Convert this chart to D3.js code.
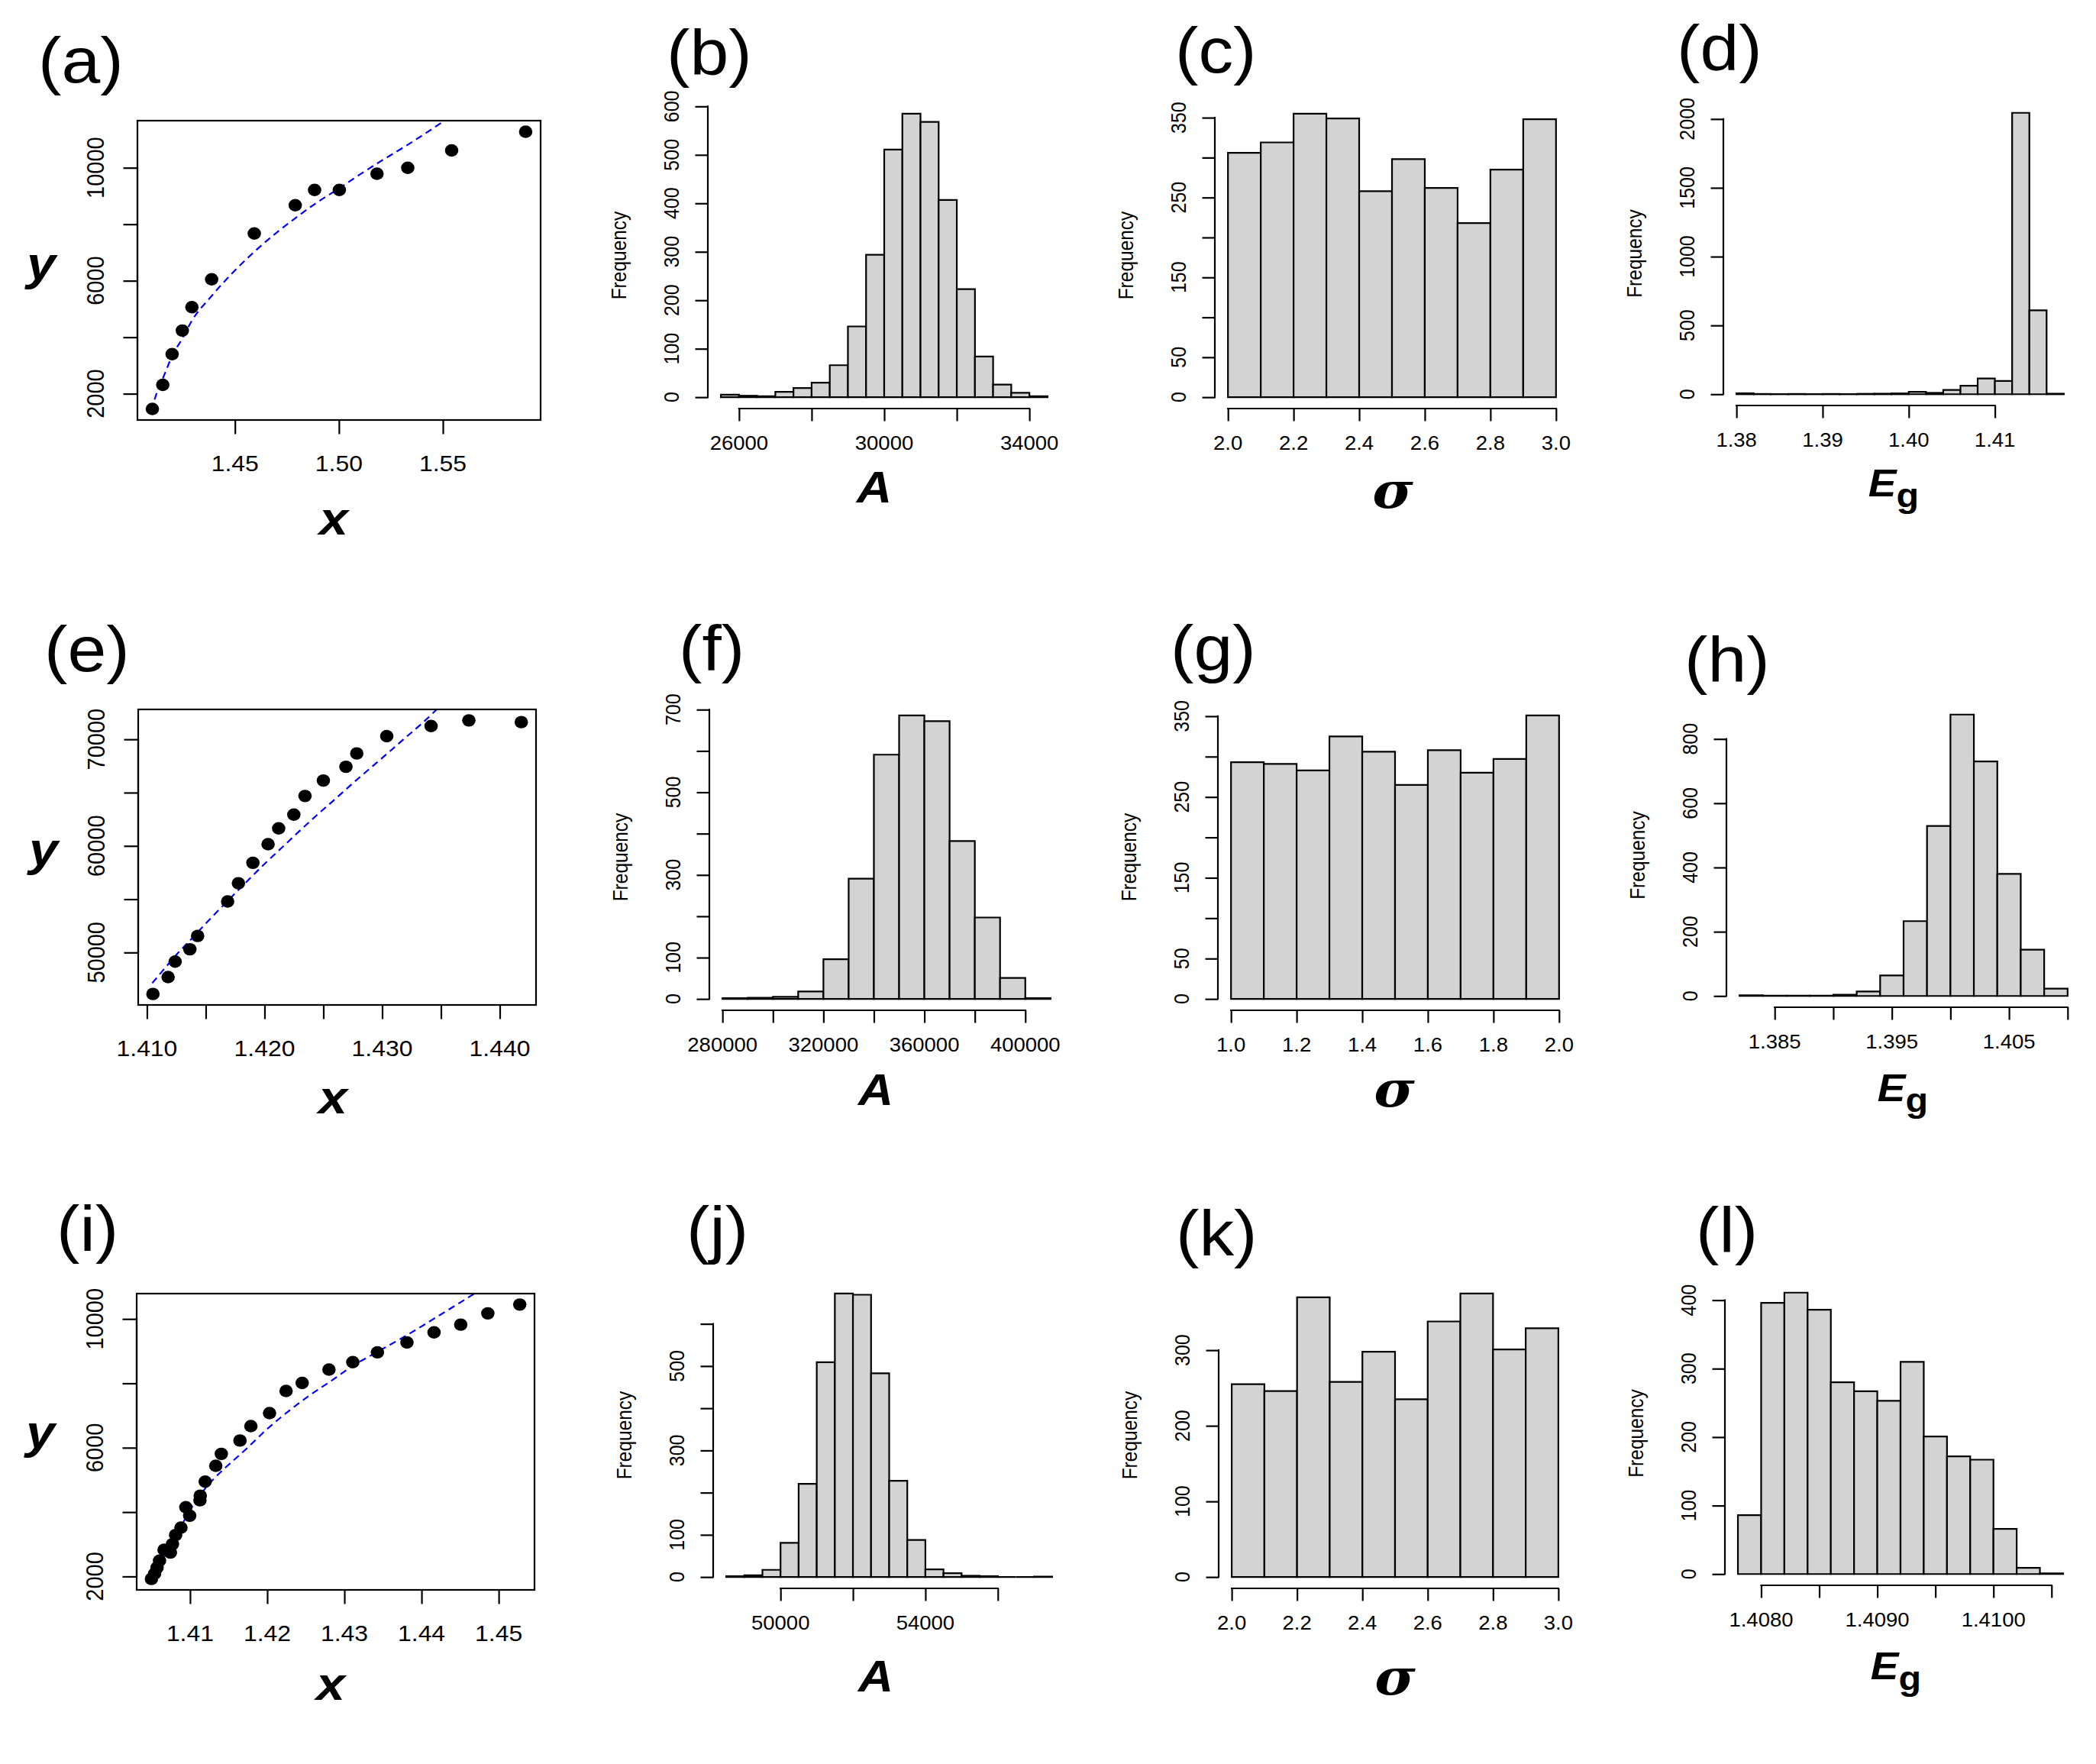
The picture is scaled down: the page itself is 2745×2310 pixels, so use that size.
<!DOCTYPE html>
<meta charset='utf-8'>
<body style='margin:0;background:#ffffff'>
<script src='https://d3js.org/d3.v7.min.js'></script>
<script>

var width = 2745, height = 2310;
var stretch = 1.1;          // the source figure is slightly stretched horizontally
var lw = 2.2;
var sans = 'Liberation Sans, Arial, sans-serif';

// ---- scatter panels (measured points and fitted curve) ----
var aX = [1.4103, 1.4153, 1.4198, 1.4247, 1.4293, 1.4388, 1.4593, 1.4790, 1.4883, 1.5002, 1.5183, 1.5331, 1.5542, 1.5898];
var aY = [1462, 2312, 3400, 4237, 5062, 6050, 7675, 8675, 9212, 9212, 9787, 10000, 10612, 11275];
var aFitX = [1.40983, 1.41237, 1.41525, 1.41983, 1.42475, 1.42932, 1.43881, 1.44881, 1.45932, 1.46915, 1.47898, 1.48831, 1.50017, 1.50983, 1.51831, 1.53305, 1.54203, 1.55085];
var aFitY = [1400, 2025, 2525, 3338, 3963, 4588, 5463, 6275, 7025, 7650, 8213, 8713, 9275, 9750, 10150, 10813, 11238, 11675];

var eX = [1.41051, 1.41180, 1.41240, 1.41365, 1.41431, 1.41686, 1.41778, 1.41901, 1.42030, 1.42120, 1.42249, 1.42344, 1.42500, 1.42692, 1.42784, 1.43039, 1.43416, 1.43737, 1.44183];
var eY = [46106, 47690, 49142, 50297, 51551, 54785, 56501, 58415, 60164, 61649, 62936, 64685, 66137, 67424, 68678, 70295, 71252, 71780, 71615];
var eFitX = [1.41045, 1.41159, 1.41249, 1.41368, 1.41488, 1.41608, 1.41728, 1.41847, 1.41997, 1.42147, 1.42296, 1.42446, 1.42596, 1.42746, 1.42895, 1.43045, 1.43195, 1.43344, 1.43464];
var eFitY = [47129, 48614, 49769, 51155, 52574, 53960, 55313, 56633, 58283, 59834, 61385, 62903, 64355, 65840, 67259, 68678, 70130, 71549, 72803];

var iX = [1.40499, 1.40540, 1.40572, 1.40604, 1.40663, 1.40745, 1.40772, 1.40813, 1.40882, 1.40945, 1.40995, 1.41128, 1.41132, 1.41196, 1.41333, 1.41405, 1.41647, 1.41788, 1.42030, 1.42244, 1.42453, 1.42800, 1.43109, 1.43428, 1.43811, 1.44162, 1.44508, 1.44859, 1.45273];
var iY = [1924, 2087, 2273, 2491, 2829, 2742, 3004, 3288, 3517, 4150, 3888, 4368, 4510, 4947, 5438, 5809, 6224, 6671, 7075, 7763, 8014, 8428, 8658, 8963, 9269, 9585, 9825, 10175, 10447];
var iFitX = [1.40499, 1.40576, 1.40645, 1.40736, 1.40827, 1.40918, 1.41009, 1.41100, 1.41191, 1.41282, 1.41419, 1.41556, 1.41738, 1.42011, 1.42285, 1.42558, 1.42831, 1.43105, 1.43424, 1.43788, 1.44244, 1.44677];
var iFitY = [1804, 2186, 2513, 2895, 3277, 3713, 4095, 4423, 4718, 4969, 5296, 5591, 5984, 6606, 7151, 7643, 8079, 8537, 8974, 9465, 10131, 10775];

// ---- histogram counts (first break, bin width, counts) ----
var bStart = 25500, bStep = 500;
var bCounts = [5, 3, 2, 11, 19, 30, 66, 146, 294, 511, 585, 568, 407, 223, 84, 26, 9, 2];
var cStart = 2.0, cStep = 0.1;
var cCounts = [306, 319, 355, 349, 258, 298, 262, 218, 285, 348];
var dStart = 1.380, dStep = 0.002;
var dCounts = [7, 2, 1, 2, 1, 2, 1, 3, 4, 6, 17, 10, 31, 62, 115, 96, 2045, 610, 4];

var fStart = 280000, fStep = 10000;
var fCounts = [2, 3, 5, 18, 96, 291, 591, 686, 672, 382, 197, 51, 2];
var gStart = 1.0, gStep = 0.1;
var gCounts = [293, 291, 283, 325, 306, 265, 308, 280, 297, 351];
var hStart = 1.382, hStep = 0.002;
var hCounts = [2, 1, 1, 1, 4, 14, 64, 233, 529, 876, 730, 380, 144, 23];

var jStart = 48500, jStep = 500;
var jCounts = [2, 4, 17, 81, 221, 509, 672, 669, 483, 228, 88, 18, 9, 3, 2, 0, 0, 1];
var kStart = 2.0, kStep = 0.1;
var kCounts = [255, 246, 370, 258, 298, 235, 338, 375, 301, 329];
var lStart = 1.4078, lStep = 0.0002;
var lCounts = [86, 396, 411, 386, 280, 267, 253, 310, 201, 172, 167, 66, 9, 1];

// ---- ticks and tick labels ('' = tick without label) ----
var aXTicks = [1.45, 1.50, 1.55], aXLabels = ['1.45', '1.50', '1.55'];
var aYTicks = [2000, 4000, 6000, 8000, 10000], aYLabels = ['2000', '', '6000', '', '10000'];
var eXTicks = [1.410, 1.415, 1.420, 1.425, 1.430, 1.435, 1.440], eXLabels = ['1.410', '', '1.420', '', '1.430', '', '1.440'];
var eYTicks = [50000, 55000, 60000, 65000, 70000], eYLabels = ['50000', '', '60000', '', '70000'];
var iXTicks = [1.41, 1.42, 1.43, 1.44, 1.45], iXLabels = ['1.41', '1.42', '1.43', '1.44', '1.45'];
var iYTicks = [2000, 4000, 6000, 8000, 10000], iYLabels = ['2000', '', '6000', '', '10000'];

var bXTicks = [26000, 28000, 30000, 32000, 34000], bXLabels = ['26000', '', '30000', '', '34000'];
var bYTicks = [0, 100, 200, 300, 400, 500, 600], bYLabels = ['0', '100', '200', '300', '400', '500', '600'];
var cXTicks = [2.0, 2.2, 2.4, 2.6, 2.8, 3.0], cXLabels = ['2.0', '2.2', '2.4', '2.6', '2.8', '3.0'];
var cYTicks = [0, 50, 100, 150, 200, 250, 300, 350], cYLabels = ['0', '50', '', '150', '', '250', '', '350'];
var dXTicks = [1.38, 1.39, 1.40, 1.41], dXLabels = ['1.38', '1.39', '1.40', '1.41'];
var dYTicks = [0, 500, 1000, 1500, 2000], dYLabels = ['0', '500', '1000', '1500', '2000'];

var fXTicks = [280000, 300000, 320000, 340000, 360000, 380000, 400000], fXLabels = ['280000', '', '320000', '', '360000', '', '400000'];
var fYTicks = [0, 100, 200, 300, 400, 500, 600, 700], fYLabels = ['0', '100', '', '300', '', '500', '', '700'];
var gXTicks = [1.0, 1.2, 1.4, 1.6, 1.8, 2.0], gXLabels = ['1.0', '1.2', '1.4', '1.6', '1.8', '2.0'];
var gYTicks = [0, 50, 100, 150, 200, 250, 300, 350], gYLabels = ['0', '50', '', '150', '', '250', '', '350'];
var hXTicks = [1.385, 1.390, 1.395, 1.400, 1.405, 1.410], hXLabels = ['1.385', '', '1.395', '', '1.405', ''];
var hYTicks = [0, 200, 400, 600, 800], hYLabels = ['0', '200', '400', '600', '800'];

var jXTicks = [50000, 52000, 54000, 56000], jXLabels = ['50000', '', '54000', ''];
var jYTicks = [0, 100, 200, 300, 400, 500, 600], jYLabels = ['0', '100', '', '300', '', '500', ''];
var kXTicks = [2.0, 2.2, 2.4, 2.6, 2.8, 3.0], kXLabels = ['2.0', '2.2', '2.4', '2.6', '2.8', '3.0'];
var kYTicks = [0, 100, 200, 300], kYLabels = ['0', '100', '200', '300'];
var lXTicks = [1.4080, 1.4085, 1.4090, 1.4095, 1.4100, 1.4105], lXLabels = ['1.4080', '', '1.4090', '', '1.4100', ''];
var lYTicks = [0, 100, 200, 300, 400], lYLabels = ['0', '100', '200', '300', '400'];

// ---- layout (plot boxes in page pixels) ----
var scatterPanels = [
    { tag: '(a)', tagPos: [50, 108], box: [180, 708, 158, 550], xs: aX, ys: aY, fx: aFitX, fy: aFitY,
      xt: aXTicks, xl: aXLabels, yt: aYTicks, yl: aYLabels, xlab: [437, 700], ylab: [54, 366] },
    { tag: '(e)', tagPos: [58, 879], box: [181, 702, 929, 1316], xs: eX, ys: eY, fx: eFitX, fy: eFitY,
      xt: eXTicks, xl: eXLabels, yt: eYTicks, yl: eYLabels, xlab: [436, 1458], ylab: [57, 1133] },
    { tag: '(i)', tagPos: [74, 1638], box: [179, 700, 1694, 2082], xs: iX, ys: iY, fx: iFitX, fy: iFitY,
      xt: iXTicks, xl: iXLabels, yt: iYTicks, yl: iYLabels, xlab: [433, 2226], ylab: [53, 1896] }
];

var histPanels = [
    { tag: '(b)', tagPos: [873, 98], box: [927, 1389, 134, 535], start: bStart, step: bStep, counts: bCounts,
      xt: bXTicks, xl: bXLabels, yt: bYTicks, yl: bYLabels, lab: 'A', labPos: [1145, 658] },
    { tag: '(c)', tagPos: [1539, 95], box: [1591, 2055, 134, 535], start: cStart, step: cStep, counts: cCounts,
      xt: cXTicks, xl: cXLabels, yt: cYTicks, yl: cYLabels, lab: 'sigma', labPos: [1824, 665] },
    { tag: '(d)', tagPos: [2196, 92], box: [2257, 2720, 133, 531], start: dStart, step: dStep, counts: dCounts,
      xt: dXTicks, xl: dXLabels, yt: dYTicks, yl: dYLabels, lab: 'Eg', labPos: [2480, 650] },

    { tag: '(f)', tagPos: [889, 878], box: [929, 1393, 922, 1323], start: fStart, step: fStep, counts: fCounts,
      xt: fXTicks, xl: fXLabels, yt: fYTicks, yl: fYLabels, lab: 'A', labPos: [1147, 1447] },
    { tag: '(g)', tagPos: [1533, 878], box: [1595, 2059, 922, 1323], start: gStart, step: gStep, counts: gCounts,
      xt: gXTicks, xl: gXLabels, yt: gYTicks, yl: gYLabels, lab: 'sigma', labPos: [1826, 1449] },
    { tag: '(h)', tagPos: [2206, 893], box: [2261, 2725, 921, 1319], start: hStart, step: hStep, counts: hCounts,
      xt: hXTicks, xl: hXLabels, yt: hYTicks, yl: hYLabels, lab: 'Eg', labPos: [2492, 1442] },

    { tag: '(j)', tagPos: [899, 1639], box: [934, 1395, 1679, 2080], start: jStart, step: jStep, counts: jCounts,
      xt: jXTicks, xl: jXLabels, yt: jYTicks, yl: jYLabels, lab: 'A', labPos: [1147, 2215] },
    { tag: '(k)', tagPos: [1540, 1644], box: [1596, 2058, 1679, 2080], start: kStart, step: kStep, counts: kCounts,
      xt: kXTicks, xl: kXLabels, yt: kYTicks, yl: kYLabels, lab: 'sigma', labPos: [1827, 2219] },
    { tag: '(l)', tagPos: [2221, 1640], box: [2259, 2719, 1678, 2076], start: lStart, step: lStep, counts: lCounts,
      xt: lXTicks, xl: lXLabels, yt: lYTicks, yl: lYLabels, lab: 'Eg', labPos: [2483, 2199] }
];

var svg = d3.select('body').append('svg')
    .attr('width', width)
    .attr('height', height)
    .attr('viewBox', '0 0 ' + width + ' ' + height);

svg.append('rect').attr('width', width).attr('height', height).attr('fill', '#ffffff');

// R style axis range: data range widened by 4%
function rRange(lo, hi) {
    var d = (hi - lo) * 0.04;
    return [lo - d, hi + d];
}

function stretchText(g, x, y, rotate) {
    return g.append('text')
        .attr('transform', 'translate(' + x + ',' + y + ') scale(' + stretch + ',1)' + (rotate ? ' rotate(-90)' : ''))
        .attr('font-family', sans)
        .attr('fill', '#000');
}

function drawTag(g, p) {
    stretchText(g, p.tagPos[0], p.tagPos[1]).attr('font-size', 83).text(p.tag);
}

function bottomAxis(g, x, ticks, labels, y0, len, off, size) {
    var ax = d3.axisBottom(x).tickValues(ticks).tickSize(len).tickSizeOuter(0).tickFormat('');
    var gg = g.append('g').attr('transform', 'translate(0,' + y0 + ')').call(ax);
    gg.select('.domain').remove();
    gg.selectAll('line').attr('stroke', '#000').attr('stroke-width', lw);
    gg.append('line')
        .attr('x1', x(ticks[0])).attr('x2', x(ticks[ticks.length - 1]))
        .attr('stroke', '#000').attr('stroke-width', lw).attr('stroke-linecap', 'square');
    ticks.forEach(function(d, i) {
        if (!labels[i]) return;
        stretchText(g, x(d), y0 + off).attr('font-size', size).attr('text-anchor', 'middle').text(labels[i]);
    });
}

function leftAxis(g, y, ticks, labels, x0, len, off, size) {
    var ax = d3.axisLeft(y).tickValues(ticks).tickSize(len).tickSizeOuter(0).tickFormat('');
    var gg = g.append('g').attr('transform', 'translate(' + x0 + ',0)').call(ax);
    gg.select('.domain').remove();
    gg.selectAll('line').attr('stroke', '#000').attr('stroke-width', lw);
    gg.append('line')
        .attr('y1', y(ticks[0])).attr('y2', y(ticks[ticks.length - 1]))
        .attr('stroke', '#000').attr('stroke-width', lw).attr('stroke-linecap', 'square');
    ticks.forEach(function(d, i) {
        if (!labels[i]) return;
        stretchText(g, x0 - off, y(d), true).attr('font-size', size).attr('text-anchor', 'middle').text(labels[i]);
    });
}

function drawScatter(p, k) {
    var g = svg.append('g');
    var b = p.box;
    var x = d3.scaleLinear().domain(rRange(d3.min(p.xs), d3.max(p.xs))).range([b[0], b[1]]);
    var y = d3.scaleLinear().domain(rRange(d3.min(p.ys), d3.max(p.ys))).range([b[3], b[2]]);

    var clipId = 'clip' + k;
    svg.append('clipPath').attr('id', clipId)
        .append('rect').attr('x', b[0]).attr('y', b[2]).attr('width', b[1] - b[0]).attr('height', b[3] - b[2]);

    var fit = p.fx.map(function(d, i) { return [d, p.fy[i]]; });
    g.append('path')
        .datum(fit)
        .attr('clip-path', 'url(#' + clipId + ')')
        .attr('fill', 'none')
        .attr('stroke', '#0000ff')
        .attr('stroke-width', 2.2)
        .attr('stroke-dasharray', '9,6')
        .attr('d', d3.line().x(function(d) { return x(d[0]); }).y(function(d) { return y(d[1]); }).curve(d3.curveMonotoneX));

    g.selectAll('ellipse')
        .data(p.xs)
        .enter()
        .append('ellipse')
        .attr('cx', function(d) { return x(d); })
        .attr('cy', function(d, i) { return y(p.ys[i]); })
        .attr('rx', 8.8)
        .attr('ry', 8.2)
        .attr('fill', '#000');

    g.append('rect')
        .attr('x', b[0]).attr('y', b[2]).attr('width', b[1] - b[0]).attr('height', b[3] - b[2])
        .attr('fill', 'none').attr('stroke', '#000').attr('stroke-width', lw);

    bottomAxis(g, x, p.xt, p.xl, b[3], 18.5, 67, 29);
    leftAxis(g, y, p.yt, p.yl, b[0], 18.5, 44, 29);

    stretchText(g, p.xlab[0], p.xlab[1]).attr('font-size', 62).attr('font-weight', 'bold')
        .attr('font-style', 'italic').attr('text-anchor', 'middle').text('x');
    stretchText(g, p.ylab[0], p.ylab[1]).attr('font-size', 62).attr('font-weight', 'bold')
        .attr('font-style', 'italic').attr('text-anchor', 'middle').text('y');

    drawTag(g, p);
}

function drawHist(p) {
    var g = svg.append('g');
    var b = p.box;
    var n = p.counts.length;
    var bins = p.counts.map(function(c, i) {
        return { x0: p.start + i * p.step, x1: p.start + (i + 1) * p.step, count: c };
    });
    var x = d3.scaleLinear().domain(rRange(p.start, bins[n - 1].x1)).range([b[0], b[1]]);
    var y = d3.scaleLinear().domain(rRange(0, d3.max(p.counts))).range([b[3], b[2]]);

    g.selectAll('path.bar')
        .data(bins)
        .enter()
        .append('path')
        .attr('class', 'bar')
        .attr('d', function(d) {
            return 'M' + x(d.x0) + ',' + y(0) + 'H' + x(d.x1) + 'V' + y(d.count) + 'H' + x(d.x0) + 'Z';
        })
        .attr('fill', '#d3d3d3')
        .attr('stroke', '#000')
        .attr('stroke-width', lw)
        .attr('stroke-linejoin', 'miter');

    bottomAxis(g, x, p.xt, p.xl, b[3], 16.5, 54, 25);
    leftAxis(g, y, p.yt, p.yl, b[0], 16.5, 38, 25);

    stretchText(g, b[0] - 107, (b[2] + b[3]) / 2, true)
        .attr('font-size', 24.5).attr('text-anchor', 'middle').text('Frequency');

    var lab = stretchText(g, p.labPos[0], p.labPos[1]).attr('text-anchor', 'middle');
    if (p.lab === 'A') {
        lab.attr('font-size', 58).attr('font-weight', 'bold').attr('font-style', 'italic').text('A');
    } else if (p.lab === 'sigma') {
        lab.attr('font-family', 'DejaVu Serif, Liberation Serif, serif')
            .attr('font-size', 66).attr('font-style', 'italic').attr('font-weight', 'bold').text('\u03c3');
    } else {
        lab.attr('font-weight', 'bold');
        lab.append('tspan').attr('font-size', 50).attr('font-style', 'italic').text('E');
        lab.append('tspan').attr('font-size', 44).attr('dy', 14).text('g');
    }

    drawTag(g, p);
}

scatterPanels.forEach(drawScatter);
histPanels.forEach(drawHist);

</script>
</body>
